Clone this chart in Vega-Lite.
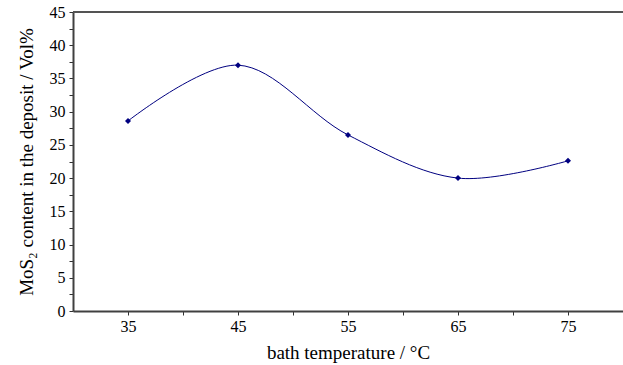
{
  "$schema": "https://vega.github.io/schema/vega-lite/v6.json",
  "width": 550,
  "height": 299,
  "autosize": "none",
  "padding": {"left": 73, "top": 12, "right": 0, "bottom": 54},
  "config": {
    "view": {"stroke": null},
    "font": "Liberation Serif",
    "axis": {
      "grid": false,
      "labelFont": "Liberation Serif",
      "labelFontSize": 16,
      "labelColor": "#000000",
      "labelOverlap": false,
      "titleFont": "Liberation Serif",
      "titleFontSize": 19,
      "titleFontWeight": "normal",
      "titleColor": "#000000",
      "domainColor": "#404040",
      "domainWidth": 2,
      "ticks": true,
      "tickColor": "#303030",
      "tickWidth": 1
    }
  },
  "data": {
    "values": [
      {"temp": 35, "mos2": 28.6},
      {"temp": 45, "mos2": 37.0},
      {"temp": 55, "mos2": 26.5},
      {"temp": 65, "mos2": 20.0},
      {"temp": 75, "mos2": 22.6}
    ]
  },
  "encoding": {
    "x": {
      "field": "temp",
      "type": "quantitative",
      "scale": {"domain": [30, 80], "nice": false, "zero": false},
      "axis": {
        "values": [35, 40, 45, 50, 55, 60, 65, 70, 75],
        "labelExpr": "datum.value % 10 == 5 ? datum.label : ''",
        "ticks": true,
        "tickSize": 4,
        "labelPadding": 3,
        "labelOverlap": false,
        "labelFont": "Liberation Serif",
        "title": "bath temperature / °C",
        "titlePadding": 9
      }
    },
    "y": {
      "field": "mos2",
      "type": "quantitative",
      "scale": {"domain": [0, 45], "nice": false, "zero": true},
      "axis": {
        "values": [0, 2.5, 5, 7.5, 10, 12.5, 15, 17.5, 20, 22.5, 25, 27.5, 30, 32.5, 35, 37.5, 40, 42.5, 45],
        "labelExpr": "datum.value % 5 == 0 ? format(datum.value, 'd') : ''",
        "ticks": true,
        "tickSize": 4,
        "labelPadding": 4,
        "labelOverlap": false,
        "labelFont": "Liberation Serif",
        "title": "MoS₂ content in the deposit / Vol%",
        "titlePadding": 13
      }
    }
  },
  "layer": [
    {
      "mark": {"type": "line", "interpolate": "catmull-rom", "color": "#000080", "strokeWidth": 1}
    },
    {
      "mark": {"type": "point", "shape": "diamond", "filled": true, "color": "#000080", "size": 36, "opacity": 1}
    },
    {
      "mark": {"type": "rule", "color": "#555555", "strokeWidth": 1.5},
      "encoding": {
        "x": {"datum": 30, "type": "quantitative"},
        "x2": {"datum": 80},
        "y": {"datum": 45, "type": "quantitative"}
      }
    }
  ]
}
